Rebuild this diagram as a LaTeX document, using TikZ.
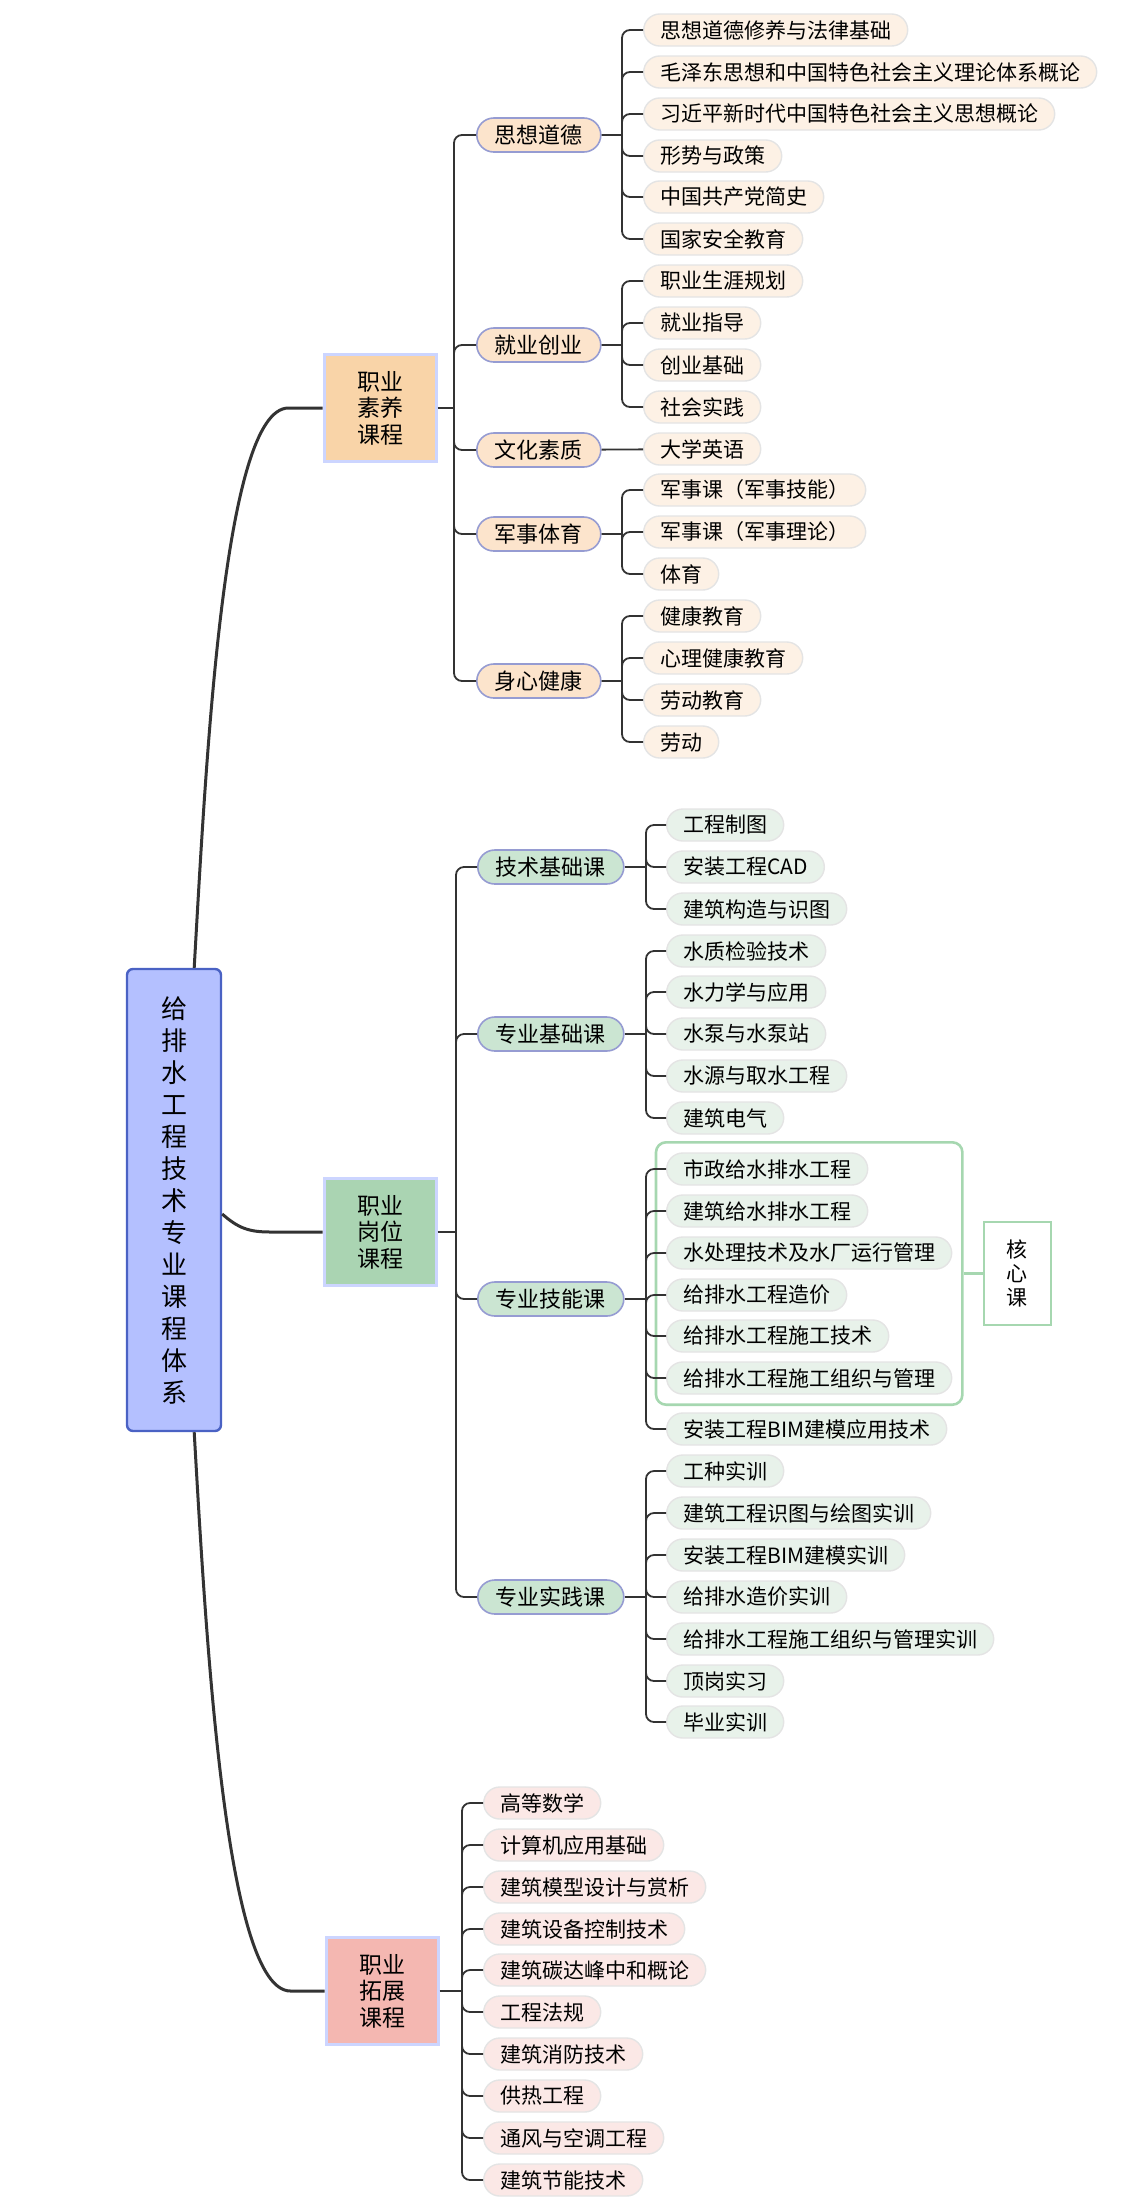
\documentclass[tikz,border=0pt]{standalone}
\usepackage{fontspec}
\setmainfont{Noto Sans CJK SC}
\usepackage{xcolor}
\usepackage{tikz}
\usetikzlibrary{positioning, fit, calc}

\definecolor{rootfill}{HTML}{B4C0FF}
\definecolor{rootline}{HTML}{4A62C4}
\definecolor{boxline}{HTML}{CCD5FF}
\definecolor{catline}{HTML}{969CD2}
\definecolor{linec}{HTML}{333333}
\definecolor{orgbox}{HTML}{F9D4A8}
\definecolor{orgcat}{HTML}{FCE4CC}
\definecolor{orgleaf}{HTML}{FDF1E5}
\definecolor{grnbox}{HTML}{AAD4B2}
\definecolor{grncat}{HTML}{CBE5D2}
\definecolor{grnleaf}{HTML}{E8F2EA}
\definecolor{redbox}{HTML}{F4B7B1}
\definecolor{redleaf}{HTML}{FBE8E6}
\definecolor{leafline}{HTML}{E4E4E4}
\definecolor{coreg}{HTML}{A6D7B0}

\begin{document}
\begin{tikzpicture}[x=0.5pt, y=-0.5pt,
    every node/.style={text=black},
    rootbox/.style={rectangle, draw=rootline, line width=1.2pt, fill=rootfill, rounded corners=3pt, minimum width=47pt, minimum height=231pt, align=center, font=\fontsize{13}{16}\selectfont},
    mainbox/.style={rectangle, draw=boxline, line width=1.5pt, minimum width=56pt, minimum height=53.5pt, align=center, font=\fontsize{11.5}{13.3}\selectfont},
    cat/.style={rectangle, draw=catline, line width=0.8pt, rounded corners=8.5pt, minimum height=17pt, inner xsep=9pt, inner ysep=0pt, anchor=west, font=\fontsize{11}{13}\selectfont},
    leaf/.style={rectangle, draw=leafline, line width=0.7pt, rounded corners=8pt, minimum height=16pt, inner xsep=8.25pt, inner ysep=0pt, anchor=west, font=\fontsize{10.5}{12}\selectfont},
    leafa/.style={leaf, fill=orgleaf},
    leafb/.style={leaf, fill=grnleaf},
    leafc/.style={leaf, fill=redleaf},
    brk/.style={draw=linec, line width=0.9pt, rounded corners=4pt},
    trunk/.style={draw=linec, line width=1.5pt},
    corebox/.style={rectangle, draw=coreg, line width=1.3pt, rounded corners=5pt, inner sep=5pt},
    keybox/.style={rectangle, draw=coreg, line width=1pt, fill=white, minimum width=33.5pt, minimum height=51.5pt, align=center, font=\fontsize{10.5}{12}\selectfont}]
    \useasboundingbox (0,0) rectangle (1147,2212);

    % root and the three groups
    \node [rootbox] (root) at (174,1200) {给\\排\\水\\工\\程\\技\\术\\专\\业\\课\\程\\体\\系};
    \node [mainbox, fill=orgbox] (zysy) at (380,408) {职业\\素养\\课程};
    \node [mainbox, fill=grnbox] (zygw) at (380,1232) {职业\\岗位\\课程};
    \node [mainbox, fill=redbox] (zytz) at (382,1991) {职业\\拓展\\课程};

    \draw [trunk] ($(root.north east)+(-28,0)$) .. controls +(12,-209) and +(-65,0) .. ($(zysy.west)+(-34,0)$) -- (zysy.west);
    \draw [trunk] ($(root.east)+(0,14)$) .. controls +(16,14) and +(-22,0) .. ($(zygw.west)+(-52,0)$) -- (zygw.west);
    \draw [trunk] ($(root.south east)+(-28,0)$) .. controls +(12,209) and +(-65,0) .. ($(zytz.west)+(-34,0)$) -- (zytz.west);

    % 职业素养课程
    \node [cat, fill=orgcat] (sxdd) at (476,135) {思想道德};
    \node [cat, fill=orgcat] (jycy) at (476,345) {就业创业};
    \node [cat, fill=orgcat] (whsz) at (476,450) {文化素质};
    \node [cat, fill=orgcat] (jsty) at (476,534) {军事体育};
    \node [cat, fill=orgcat] (sxjk) at (476,681) {身心健康};

    \node [leafa] (sxdd1) at (643,30) {思想道德修养与法律基础};
    \node [leafa] (sxdd2) at (643,72) {毛泽东思想和中国特色社会主义理论体系概论};
    \node [leafa] (sxdd3) at (643,114) {习近平新时代中国特色社会主义思想概论};
    \node [leafa] (sxdd4) at (643,156) {形势与政策};
    \node [leafa] (sxdd5) at (643,197) {中国共产党简史};
    \node [leafa] (sxdd6) at (643,239) {国家安全教育};
    \node [leafa] (jycy1) at (643,281) {职业生涯规划};
    \node [leafa] (jycy2) at (643,323) {就业指导};
    \node [leafa] (jycy3) at (643,365) {创业基础};
    \node [leafa] (jycy4) at (643,407) {社会实践};
    \node [leafa] (whsz1) at (643,449) {大学英语};
    \node [leafa] (jsty1) at (643,490) {军事课（军事技能）};
    \node [leafa] (jsty2) at (643,532) {军事课（军事理论）};
    \node [leafa] (jsty3) at (643,574) {体育};
    \node [leafa] (sxjk1) at (643,616) {健康教育};
    \node [leafa] (sxjk2) at (643,658) {心理健康教育};
    \node [leafa] (sxjk3) at (643,700) {劳动教育};
    \node [leafa] (sxjk4) at (643,742) {劳动};

    \coordinate (zysy-j) at (454,408);
    \draw [brk] (zysy) -- (zysy-j);
    \draw [brk] (zysy-j) |- (sxdd) (zysy-j) |- (jycy) (zysy-j) |- (whsz) (zysy-j) |- (jsty) (zysy-j) |- (sxjk);

    \coordinate (sxdd-j) at (622,135);
    \coordinate (jycy-j) at (622,345);
    \coordinate (jsty-j) at (622,534);
    \coordinate (sxjk-j) at (622,681);
    \draw [brk] (sxdd) -- (sxdd-j) (jycy) -- (jycy-j) (whsz) -- (whsz1) (jsty) -- (jsty-j) (sxjk) -- (sxjk-j);
    \draw [brk] (sxdd-j) |- (sxdd1) (sxdd-j) |- (sxdd2) (sxdd-j) |- (sxdd3) (sxdd-j) |- (sxdd4) (sxdd-j) |- (sxdd5) (sxdd-j) |- (sxdd6);
    \draw [brk] (jycy-j) |- (jycy1) (jycy-j) |- (jycy2) (jycy-j) |- (jycy3) (jycy-j) |- (jycy4);
    \draw [brk] (jsty-j) |- (jsty1) (jsty-j) |- (jsty2) (jsty-j) |- (jsty3);
    \draw [brk] (sxjk-j) |- (sxjk1) (sxjk-j) |- (sxjk2) (sxjk-j) |- (sxjk3) (sxjk-j) |- (sxjk4);

    % 职业岗位课程
    \node [cat, fill=grncat] (jsjc) at (477,867) {技术基础课};
    \node [cat, fill=grncat] (zyjc) at (477,1034) {专业基础课};
    \node [cat, fill=grncat] (zyjn) at (477,1299) {专业技能课};
    \node [cat, fill=grncat] (zysj) at (477,1597) {专业实践课};

    \node [leafb] (jsjc1) at (666,825) {工程制图};
    \node [leafb] (jsjc2) at (666,867) {安装工程CAD};
    \node [leafb] (jsjc3) at (666,909) {建筑构造与识图};
    \node [leafb] (zyjc1) at (666,951) {水质检验技术};
    \node [leafb] (zyjc2) at (666,992) {水力学与应用};
    \node [leafb] (zyjc3) at (666,1034) {水泵与水泵站};
    \node [leafb] (zyjc4) at (666,1076) {水源与取水工程};
    \node [leafb] (zyjc5) at (666,1118) {建筑电气};
    \node [leafb] (zyjn1) at (666,1169) {市政给水排水工程};
    \node [leafb] (zyjn2) at (666,1211) {建筑给水排水工程};
    \node [leafb] (zyjn3) at (666,1253) {水处理技术及水厂运行管理};
    \node [leafb] (zyjn4) at (666,1295) {给排水工程造价};
    \node [leafb] (zyjn5) at (666,1336) {给排水工程施工技术};
    \node [leafb] (zyjn6) at (666,1378) {给排水工程施工组织与管理};
    \node [leafb] (zyjn7) at (666,1429) {安装工程BIM建模应用技术};
    \node [leafb] (zysj1) at (666,1471) {工种实训};
    \node [leafb] (zysj2) at (666,1513) {建筑工程识图与绘图实训};
    \node [leafb] (zysj3) at (666,1555) {安装工程BIM建模实训};
    \node [leafb] (zysj4) at (666,1597) {给排水造价实训};
    \node [leafb] (zysj5) at (666,1639) {给排水工程施工组织与管理实训};
    \node [leafb] (zysj6) at (666,1681) {顶岗实习};
    \node [leafb] (zysj7) at (666,1722) {毕业实训};

    \node [corebox, fit=(zyjn1)(zyjn3)(zyjn6)] (core) {};
    \node [keybox, right=9.5pt of core] (hxk) {核\\心\\课};
    \draw [draw=coreg, line width=1.3pt] (core) -- (hxk);

    \coordinate (zygw-j) at (456,1232);
    \draw [brk] (zygw) -- (zygw-j);
    \draw [brk] (zygw-j) |- (jsjc) (zygw-j) |- (zyjc) (zygw-j) |- (zyjn) (zygw-j) |- (zysj);

    \coordinate (jsjc-j) at (646,867);
    \coordinate (zyjc-j) at (646,1034);
    \coordinate (zyjn-j) at (646,1299);
    \coordinate (zysj-j) at (646,1597);
    \draw [brk] (jsjc) -- (jsjc-j) (zyjc) -- (zyjc-j) (zyjn) -- (zyjn-j) (zysj) -- (zysj-j);
    \draw [brk] (jsjc-j) |- (jsjc1) (jsjc-j) |- (jsjc2) (jsjc-j) |- (jsjc3);
    \draw [brk] (zyjc-j) |- (zyjc1) (zyjc-j) |- (zyjc2) (zyjc-j) |- (zyjc3) (zyjc-j) |- (zyjc4) (zyjc-j) |- (zyjc5);
    \draw [brk] (zyjn-j) |- (zyjn1) (zyjn-j) |- (zyjn2) (zyjn-j) |- (zyjn3) (zyjn-j) |- (zyjn4) (zyjn-j) |- (zyjn5) (zyjn-j) |- (zyjn6) (zyjn-j) |- (zyjn7);
    \draw [brk] (zysj-j) |- (zysj1) (zysj-j) |- (zysj2) (zysj-j) |- (zysj3) (zysj-j) |- (zysj4) (zysj-j) |- (zysj5) (zysj-j) |- (zysj6) (zysj-j) |- (zysj7);

    % 职业拓展课程
    \node [leafc] (zytz1) at (483,1803) {高等数学};
    \node [leafc] (zytz2) at (483,1845) {计算机应用基础};
    \node [leafc] (zytz3) at (483,1887) {建筑模型设计与赏析};
    \node [leafc] (zytz4) at (483,1929) {建筑设备控制技术};
    \node [leafc] (zytz5) at (483,1970) {建筑碳达峰中和概论};
    \node [leafc] (zytz6) at (483,2012) {工程法规};
    \node [leafc] (zytz7) at (483,2054) {建筑消防技术};
    \node [leafc] (zytz8) at (483,2096) {供热工程};
    \node [leafc] (zytz9) at (483,2138) {通风与空调工程};
    \node [leafc] (zytz10) at (483,2180) {建筑节能技术};

    \coordinate (zytz-j) at (462,1991);
    \draw [brk] (zytz) -- (zytz-j);
    \draw [brk] (zytz-j) |- (zytz1) (zytz-j) |- (zytz2) (zytz-j) |- (zytz3) (zytz-j) |- (zytz4) (zytz-j) |- (zytz5) (zytz-j) |- (zytz6) (zytz-j) |- (zytz7) (zytz-j) |- (zytz8) (zytz-j) |- (zytz9) (zytz-j) |- (zytz10);
\end{tikzpicture}
\end{document}
